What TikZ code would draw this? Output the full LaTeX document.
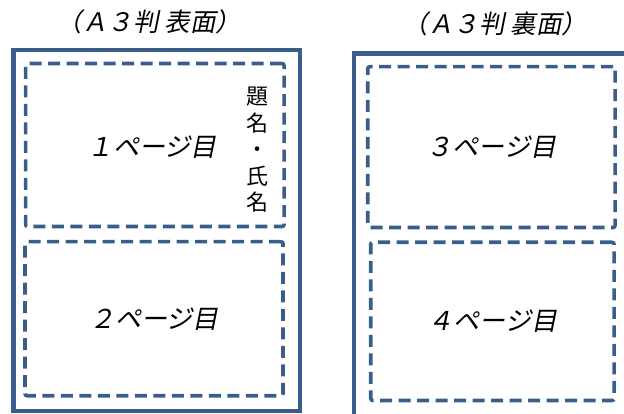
\documentclass[tikz,border=0pt]{standalone}
\usepackage{xcolor}
\usepackage{fontspec}
\newfontfamily\jpfont{Noto Sans CJK JP}
\newfontfamily\jpslant{Noto Sans CJK JP}[FakeSlant=0.2]
\definecolor{boxblue}{RGB}{58,94,140}

\begin{document}
\begin{tikzpicture}[x=1pt, y=-1pt,
		sheet/.style={draw=boxblue, line width=4.5pt, inner sep=0pt, outer sep=0pt},
		pagebox/.style={draw=boxblue, line width=3.6pt, dash pattern=on 12pt off 6.5pt, rounded corners=2pt, inner sep=0pt, font=\jpslant\fontsize{26}{26}\selectfont},
		heading/.style={font=\jpslant\fontsize{25.5}{25.5}\selectfont}]
	\useasboundingbox (0,0) rectangle (624,414);
	\clip (0,0) rectangle (624,414);
	\node [heading] (front) at (149,22) {（Ａ３判 表面）};
	\node [heading] (back) at (495,24) {（Ａ３判 裏面）};
	\node [sheet, minimum width=286.7pt, minimum height=361pt] (sheetA) at (156.7,230.5) {};
	\node [sheet, minimum width=330pt, minimum height=410pt] (sheetB) at (519,258.5) {};
	\node [pagebox, minimum width=258.5pt, minimum height=163pt] (p1) at (154.8,145) {};
	\node [pagebox, minimum width=258pt, minimum height=154pt] (p2) at (154,318.7) {２ページ目};
	\node [pagebox, minimum width=247.3pt, minimum height=160.8pt] (p3) at (491.4,147.1) {３ページ目};
	\node [pagebox, minimum width=243.3pt, minimum height=158.2pt] (p4) at (492.4,321.4) {４ページ目};
	\node [font=\jpslant\fontsize{26}{26}\selectfont] (p1text) at (152,147) {１ページ目};
	\node [font=\jpfont\fontsize{22}{26.5}\selectfont, align=center, inner sep=0pt] (name) at (257,150) {題\\名\\・\\氏\\名};
\end{tikzpicture}
\end{document}
